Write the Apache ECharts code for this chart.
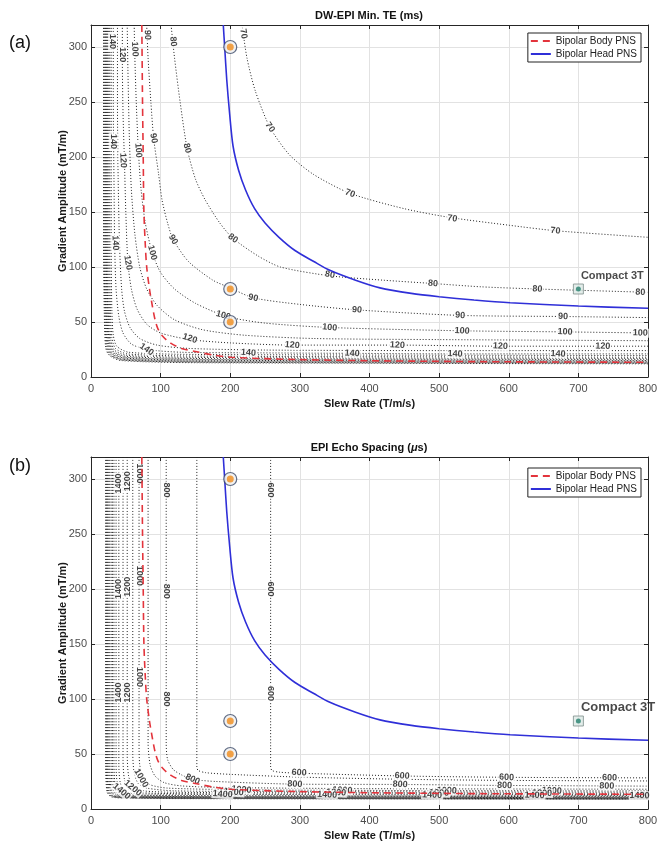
<!DOCTYPE html>
<html>
<head>
<meta charset="utf-8">
<script src="https://cdn.jsdelivr.net/npm/echarts@6/dist/echarts.min.js"></script>
<style>html,body{margin:0;background:#fff}#chart{width:670px;height:850px}</style>
</head>
<body>
<div id="chart"></div>
<script>
// contour lines, points are [slew rate, gradient amplitude]
// (a) DW-EPI min TE (ms)
var te70 = [[217,320],[224,290],[236,260],[257,227],[285,202],[320,184],[372,167],[450,153],[516,145],[600,138],[667,133],[800,127]];
var te80 = [[115,320],[120,290],[128,250],[138,208],[150,180],[164,161],[185,140],[204,126],[240,110],[272,100],[343,92],[420,88],[491,85],[560,82],[641,80],[800,77]];
var te90 = [[80,320],[82,290],[86,250],[90,217],[97,185],[102,161],[110,140],[118,125],[140,105],[175,88],[200,81],[233,72],[300,66],[382,61],[530,56],[678,55],[800,54]];
var te100 = [[62,320],[63,290],[65,250],[68,206],[72,170],[78,140],[88,113],[100,95],[120,80],[150,67],[195,55],[250,49],[343,45],[533,42],[681,41],[800,40]];
var te110 = [[52,320],[53,280],[55,220],[58,170],[63,130],[70,100],[80,80],[95,65],[120,52],[160,43],[220,38],[320,35],[500,34],[800,33]];
var te120 = [[45,320],[45,290],[46,240],[48,197],[50,150],[53,104],[58,80],[66,62],[80,48],[100,40],[142,34],[200,31],[289,29],[440,29],[588,28],[800,28]];
var te130 = [[38,320],[38,250],[39,180],[41,120],[44,80],[48,60],[56,45],[70,35],[95,29],[140,26],[250,24.5],[500,24],[800,24]];
var te140 = [[32,320],[32,250],[33,180],[34,120],[36,80],[40,55],[46,40],[58,30],[80,25],[130,22.5],[226,22],[375,21.5],[523,21],[800,21]];
var teDense = [
  [[29,320],[29,120],[30,60],[32,38],[37,28],[54,22.5],[150,20.5],[800,19.5]],
  [[27,320],[27,120],[28,60],[30,36],[35,26],[52,21],[150,19],[800,18]],
  [[25.5,320],[25.5,120],[26.5,60],[28.5,34],[33.5,24.5],[50,19.8],[150,17.8],[800,16.8]],
  [[24,320],[24,120],[25,60],[27,33],[32,23.5],[49,18.8],[150,16.8],[800,15.8]],
  [[23,320],[23,120],[24,60],[26,32],[31,22.8],[48,18],[150,16],[800,15]],
  [[22,320],[22,120],[23,60],[25,31],[30,22],[47,17.3],[150,15.3],[800,14.3]],
  [[21,320],[21,120],[22,60],[24,30],[29,21.3],[46,16.6],[150,14.6],[800,13.6]],
  [[20,320],[20,120],[21,60],[23,29],[28,20.8],[45,16],[150,14],[800,13]],
  [[19,320],[19,120],[20,60],[22,28],[27,20.3],[44,15.5],[150,13.5],[800,12.5]],
  [[18,320],[18,120],[19,60],[21,27],[26,19.8],[43,15],[150,13],[800,12]]
];
var teLines = [te70, te80, te90, te100, te110, te120, te130, te140].concat(teDense);

// label text, where it sits, and its angle along the line
var teLabels = [
  [219,312,'70',-80],[257,227,'70',-55],[372,167,'70',-20],[519,144,'70',-8],[667,133,'70',-5],
  [118,305,'80',-85],[138,208,'80',-75],[204,126,'80',-35],[343,93,'80',-10],[491,85,'80',-5],[641,80,'80',-3],[789,77,'80',-2],
  [81,311,'90',-88],[90,217,'90',-80],[118,125,'90',-60],[233,72,'90',-12],[382,61,'90',-5],[530,56,'90',-3],[678,55,'90',-2],
  [63,298,'100',-88],[68,206,'100',-85],[88,113,'100',-75],[190,56,'100',-15],[343,45,'100',-5],[533,42,'100',-3],[681,41,'100',-2],[789,40,'100',-1],
  [45,293,'120',-90],[46,197,'120',-88],[53,104,'120',-80],[142,35,'120',-18],[289,29,'120',-5],[440,29,'120',-3],[588,28,'120',-3],[735,28,'120',-2],
  [31,305,'140',-90],[32,214,'140',-90],[35,122,'140',-88],[80,25,'140',-35],[226,22,'140',-4],[375,21.5,'140',-3],[523,21,'140',-2],[671,21,'140',-2]
];

// (b) EPI echo spacing (us)
var es600 = [[258,320],[258,38],[260,35],[270,33.5],[300,32.5],[450,30],[600,28.8],[800,28.3]];
var es700 = [[152,320],[152,38],[154,35],[165,33],[200,31.5],[300,29],[450,27],[600,26],[800,25.5]];
var es800 = [[108,320],[108,60],[110,45],[118,36],[130,31],[146,27],[180,25],[293,22.6],[444,22.3],[594,21.4],[800,20.8]];
var es900 = [[82,320],[82,60],[85,40],[92,30],[105,24],[130,21],[200,19.5],[400,18.5],[800,18]];
var es1000 = [[69,320],[69,60],[70,40],[75,28],[85,22],[110,19],[216,17.5],[361,17],[511,16.7],[800,16.5]];
var es1100 = [[60,320],[60,50],[62,33],[68,23],[80,19],[120,16.5],[300,15.8],[800,15.4]];
var es1200 = [[52,320],[52,50],[54,30],[60,20],[75,16.5],[120,15.2],[300,14.7],[800,14.4]];
var es1300 = [[46,320],[46,45],[48,27],[54,18],[70,15],[120,14],[400,13.5],[800,13.3]];
var es1400 = [[40,320],[40,40],[42,24],[48,16],[65,13.8],[189,13.2],[490,12.6],[800,12.2]];
var esDense = [
  [[36,320],[36,40],[38,22],[44,14.8],[60,12.8],[150,12.2],[800,11.6]],
  [[33,320],[33,40],[35,21],[41,14.2],[57,12.3],[150,11.7],[800,11.1]],
  [[31,320],[31,40],[33,20],[39,13.7],[55,11.9],[150,11.3],[800,10.7]],
  [[29,320],[29,40],[31,19],[37,13.2],[53,11.5],[150,10.9],[800,10.3]],
  [[27,320],[27,40],[29,18],[35,12.8],[51,11.2],[150,10.6],[800,10]],
  [[25.5,320],[25.5,40],[27.5,17.5],[33.5,12.4],[50,10.9],[150,10.3],[800,9.7]],
  [[24,320],[24,40],[26,17],[32,12],[48,10.6],[150,10],[800,9.4]],
  [[23,320],[23,40],[25,16.5],[31,11.7],[47,10.4],[150,9.8],[800,9.2]],
  [[22,320],[22,40],[24,16],[30,11.4],[46,10.2],[150,9.6],[800,9]],
  [[21,320],[21,40],[23,15.5],[29,11.1],[45,10],[150,9.4],[800,8.8]]
];
var esLines = [es600, es700, es800, es900, es1000, es1100, es1200, es1300, es1400].concat(esDense);

var esLabels = [
  [258,290,'600',-90],[258,200,'600',-90],[258,105,'600',-90],
  [108,290,'800',-90],[108,198,'800',-90],[108,100,'800',-90],
  [69,305,'1000',-90],[69,212,'1000',-90],[69,120,'1000',-90],
  [52,298,'1200',90],[52,202,'1200',90],[52,106,'1200',90],
  [40,296,'1400',90],[40,200,'1400',90],[40,106,'1400',90],
  [299,33,'600',-3],[447,30,'600',-3],[597,28.8,'600',-2],[745,28.4,'600',-2],
  [146,27,'800',-25],[293,22.6,'800',-3],[444,22.3,'800',-3],[594,21.4,'800',-2],[741,20.9,'800',-2],
  [72,28,'1000',-60],[216,17.6,'1000',-5],[361,17,'1000',-3],[511,16.7,'1000',-2],[662,16.6,'1000',-2],
  [60,19,'1200',-40],[205,15.2,'1200',-4],[352,14.9,'1200',-3],[500,14.6,'1200',-2],[648,14.4,'1200',-2],
  [44,16,'1400',-40],[189,13.4,'1400',-4],[339,13,'1400',-3],[490,12.7,'1400',-2],[637,12.4,'1400',-2],[788,12.2,'1400',-1]
];

// PNS limits, same in both panels
var bodyPNS = [[73,320],[74,250],[75,200],[76,150],[78,120],[80,100],[84,80],[88,65],[92,52],[96,44],[103,37],[115,30.5],[130,26],[152,23],[175,20],[201,18],[250,16.7],[299,15.8],[400,14.8],[484,14.3],[600,13.8],[800,13.4]];
var headPNS = [[190,320],[192,300],[195,270],[199,240],[204,210],[212,188],[222,170],[235,153],[250,140],[270,127],[293,115],[320,105],[343,97],[380,88],[415,81],[460,76],[500,73],[550,70],[602,67.5],[700,64.5],[800,62.5]];

var scanners = [[200,300],[200,80],[200,50]];
var compact3T = [[700,80]];

var FONT = 'Liberation Sans, Arial, Helvetica, sans-serif';
var RED = '#e3343c', BLUE = '#2f2fd8';
var chart = echarts.init(document.getElementById('chart'), null, {renderer: 'canvas'});

function mainX(gi) {
  return {
    type: 'value', gridIndex: gi, min: 0, max: 800, interval: 100,
    name: 'Slew Rate (T/m/s)', nameLocation: 'middle', nameGap: 21, nameMoveOverlap: false,
    nameTextStyle: {fontWeight: 'bold', fontSize: 11, color: '#1a1a1a', fontFamily: FONT},
    axisLine: {lineStyle: {color: '#262626'}},
    axisTick: {inside: true, length: 4, lineStyle: {color: '#262626'}},
    axisLabel: {fontSize: 11, color: '#4d4d4d', margin: 6, fontFamily: FONT},
    splitLine: {show: true, lineStyle: {color: '#e2e2e2'}}
  };
}
function mainY(gi) {
  return {
    type: 'value', gridIndex: gi, min: 0, max: 320, interval: 50,
    name: 'Gradient Amplitude (mT/m)', nameLocation: 'middle', nameGap: 23, nameMoveOverlap: false,
    nameTextStyle: {fontWeight: 'bold', fontSize: 11, color: '#1a1a1a', fontFamily: FONT},
    axisLine: {lineStyle: {color: '#262626'}},
    axisTick: {inside: true, length: 4, lineStyle: {color: '#262626'}},
    axisLabel: {fontSize: 11, color: '#4d4d4d', margin: 4, showMaxLabel: false, fontFamily: FONT},
    splitLine: {show: true, lineStyle: {color: '#e2e2e2'}}
  };
}
function boxX(gi) {
  return {type: 'value', gridIndex: gi, position: 'top', min: 0, max: 800, interval: 100,
    axisLine: {show: true, onZero: false, lineStyle: {color: '#262626'}},
    axisTick: {inside: true, length: 4, lineStyle: {color: '#262626'}},
    axisLabel: {show: false}, splitLine: {show: false}};
}
function boxY(gi) {
  return {type: 'value', gridIndex: gi, position: 'right', min: 0, max: 320, interval: 50,
    axisLine: {show: true, onZero: false, lineStyle: {color: '#262626'}},
    axisTick: {inside: true, length: 4, lineStyle: {color: '#262626'}},
    axisLabel: {show: false}, splitLine: {show: false}};
}

function contour(pts, ai) {
  return {type: 'line', xAxisIndex: ai, yAxisIndex: ai, data: pts, symbol: 'none',
    smooth: 0.25, silent: true, z: 2,
    lineStyle: {type: [1, 2], width: 1, color: '#222'}};
}
function labels(list, ai) {
  return {type: 'scatter', xAxisIndex: ai, yAxisIndex: ai, symbolSize: 1, silent: true, z: 4,
    itemStyle: {color: 'rgba(0,0,0,0)'},
    label: {show: true, position: 'inside', formatter: function (p) { return p.data.t; },
      fontSize: 9, fontWeight: 'bold', color: '#111', fontFamily: FONT,
      backgroundColor: '#fff', padding: [0, 1]},
    data: list.map(function (l) { return {value: [l[0], l[1]], t: l[2], label: {rotate: l[3]}}; })};
}
function pnsSeries(ai) {
  return [
    {name: 'Bipolar Body PNS', type: 'line', xAxisIndex: ai, yAxisIndex: ai, data: bodyPNS,
      symbol: 'none', smooth: 0.3, z: 5, itemStyle: {color: RED},
      lineStyle: {type: [7, 5], width: 1.6, color: RED}},
    {name: 'Bipolar Head PNS', type: 'line', xAxisIndex: ai, yAxisIndex: ai, data: headPNS,
      symbol: 'none', smooth: 0.3, z: 5, itemStyle: {color: BLUE},
      lineStyle: {type: 'solid', width: 1.6, color: BLUE}}
  ];
}
function markerSeries(ai, fs) {
  return [
    {type: 'scatter', xAxisIndex: ai, yAxisIndex: ai, data: scanners, symbol: 'circle', symbolSize: 13, z: 6,
      itemStyle: {color: '#efefef', borderColor: '#3a4868', borderWidth: 1.2}},
    {type: 'scatter', xAxisIndex: ai, yAxisIndex: ai, data: scanners, symbol: 'circle', symbolSize: 7, z: 7,
      itemStyle: {color: '#f08c1c'}},
    {type: 'scatter', xAxisIndex: ai, yAxisIndex: ai, data: compact3T, symbol: 'rect', symbolSize: 10, z: 6,
      itemStyle: {color: '#dce8e5', borderColor: '#7d8d8b', borderWidth: 1},
      label: {show: true, formatter: 'Compact 3T', position: [8, fs > 11 ? -15 : -13],
        fontWeight: 'bold', fontSize: fs, color: '#1a1a1a', fontFamily: FONT}},
    {type: 'scatter', xAxisIndex: ai, yAxisIndex: ai, data: compact3T, symbol: 'circle', symbolSize: 5, z: 7,
      itemStyle: {color: '#24806d'}}
  ];
}
function legend(top) {
  return {data: ['Bipolar Body PNS', 'Bipolar Head PNS'], orient: 'vertical', right: 29, top: top,
    itemWidth: 20, itemHeight: 8, itemGap: 3, padding: [3, 4, 3, 2],
    itemStyle: {opacity: 0},
    borderColor: '#222', borderWidth: 1, backgroundColor: '#fff',
    textStyle: {fontSize: 10, color: '#222', fontFamily: FONT}};
}

var series = [];
teLines.forEach(function (c) { series.push(contour(c, 0)); });
esLines.forEach(function (c) { series.push(contour(c, 1)); });
series = series.concat(pnsSeries(0), pnsSeries(1));
series.push(labels(teLabels, 0), labels(esLabels, 1));
series = series.concat(markerSeries(0, 11), markerSeries(1, 13));

chart.setOption({
  animation: false,
  backgroundColor: '#fff',
  grid: [
    {left: 91, top: 25, width: 557, height: 352},
    {left: 91, top: 457, width: 557, height: 352}
  ],
  xAxis: [mainX(0), mainX(1), boxX(0), boxX(1)],
  yAxis: [mainY(0), mainY(1), boxY(0), boxY(1)],
  legend: [legend(33), legend(468)],
  graphic: [
    {type: 'text', x: 369, y: 16, style: {text: 'DW-EPI Min. TE (ms)', align: 'center', verticalAlign: 'middle',
      font: 'bold 11px ' + FONT, fill: '#111'}},
    {type: 'text', x: 369, y: 448, style: {text: 'EPI Echo Spacing ({i|μ}s)', align: 'center', verticalAlign: 'middle',
      font: 'bold 11px ' + FONT, fill: '#111',
      rich: {i: {fontStyle: 'italic', fontWeight: 'bold', fontSize: 11, fontFamily: FONT}}}},
    {type: 'text', x: 9, y: 43, style: {text: '(a)', verticalAlign: 'middle', font: '18px ' + FONT, fill: '#111'}},
    {type: 'text', x: 9, y: 466, style: {text: '(b)', verticalAlign: 'middle', font: '18px ' + FONT, fill: '#111'}}
  ],
  series: series
});
</script>
</body>
</html>
